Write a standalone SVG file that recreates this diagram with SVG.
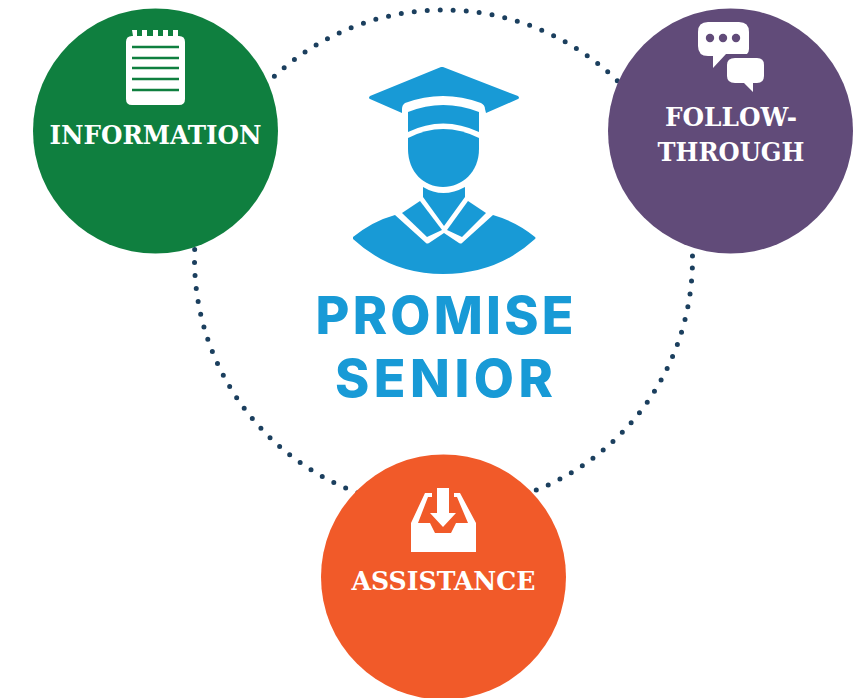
<svg xmlns="http://www.w3.org/2000/svg" width="853" height="698" viewBox="0 0 853 698">
<style>
.lbl{font-family:"DejaVu Serif Condensed","DejaVu Serif",serif;font-stretch:condensed;font-weight:700;font-size:26px;fill:#fff;text-anchor:middle}
.ttl{font-family:Inter,"Liberation Sans",sans-serif;font-weight:800;font-size:52px;fill:#189ad6;text-anchor:middle}
.w{fill:#fff}
.cap{fill:#189ad6}
</style>
<rect width="853" height="698" fill="#fff"/>
<g id="connectors"><circle cx="443.500" cy="259" r="249" fill="none" stroke="#1b3f5e" stroke-width="5" stroke-linecap="round" stroke-dasharray="0 13.04" stroke-dashoffset="4"/></g>
<g id="information">
<circle cx="155.500" cy="131" r="122.500" fill="#0f7f3f"/>
<path class="w" d="M132 30h5v6h5v-6h5v6h6v-6h5v6h5v-6h5v6h5v-6h5v6h1q6 0 6 6v57q0 6-6 6h-47q-6 0-6-6V42q0-6 6-6h1z"/>
<path d="M132 47h47M132 58h47M132 68h47M132 79h47M132 90h47" stroke="#0f7f3f" stroke-width="2.600" fill="none"/>
<text class="lbl" x="155.500" y="144" textLength="212" lengthAdjust="spacingAndGlyphs">INFORMATION</text>
</g>
<g id="follow-through">
<circle cx="730.500" cy="131" r="122.500" fill="#614b79"/>
<path class="w" d="M708 22h31q10 0 10 10v17q0 3-2 5h-21l-13 14v-12h-5q-10 0-10-10V32q0-10 10-10z"/>
<path class="w" d="M735 58h22q7 0 7 7v11q0 7-7 7h-4v9l-9-9h-9q-8 0-8-7V65q0-7 8-7z"/>
<circle cx="710" cy="38" r="4.200" fill="#614b79"/><circle cx="723" cy="38" r="4.200" fill="#614b79"/><circle cx="736" cy="38" r="4.200" fill="#614b79"/>
<text class="lbl" x="731" y="126" textLength="132" lengthAdjust="spacingAndGlyphs">FOLLOW-</text>
<text class="lbl" x="731" y="161" textLength="147" lengthAdjust="spacingAndGlyphs">THROUGH</text>
</g>
<g id="assistance">
<circle cx="443.500" cy="577" r="122.500" fill="#f15a29"/>
<path class="w" d="M411 552V523L425 493H432V497H428L418 523H430L435 533H451L456 523H468L457 497H454V493H460L476 523V552Z"/>
<path class="w" d="M437 488H449V513H456L443 527 430 513H437Z"/>
<text class="lbl" x="443.500" y="590" textLength="184" lengthAdjust="spacingAndGlyphs">ASSISTANCE</text>
</g>
<g id="promise-senior">
<path class="cap" d="M443 67 518 96q2 2 0 3L486 113 485 109q0-4-4-6-38-14-76 0-3 2-3 6v4L370 99q-2-1 0-3L441 67z"/>
<path class="cap" d="M408 112q35-14 71 0v20q-36-17-71 0z"/>
<path class="cap" d="M408 138q35-18 71 0v11c0 23-17 38-36 38s-35-15-35-38z"/>
<path class="cap" d="M423 187q20 12 42 0v10l-21 29-21-29z"/>
<path class="cap" d="M420 201l22 29-15 7-25-24z"/>
<path class="cap" d="M468 201l18 12-24 24-15-7z"/>
<path class="cap" d="M353 237q20-16 42-22l31 28q1 1 3 0l15-10 15 10q2 1 3 0l31-28q24 7 42 22 1 1 0 2-38 35-92 35-52 0-90-35z"/>
<text class="ttl" x="444.500" y="334" textLength="258" lengthAdjust="spacing">PROMISE</text>
<text class="ttl" x="444" y="397" textLength="218" lengthAdjust="spacing">SENIOR</text>
</g>
</svg>
